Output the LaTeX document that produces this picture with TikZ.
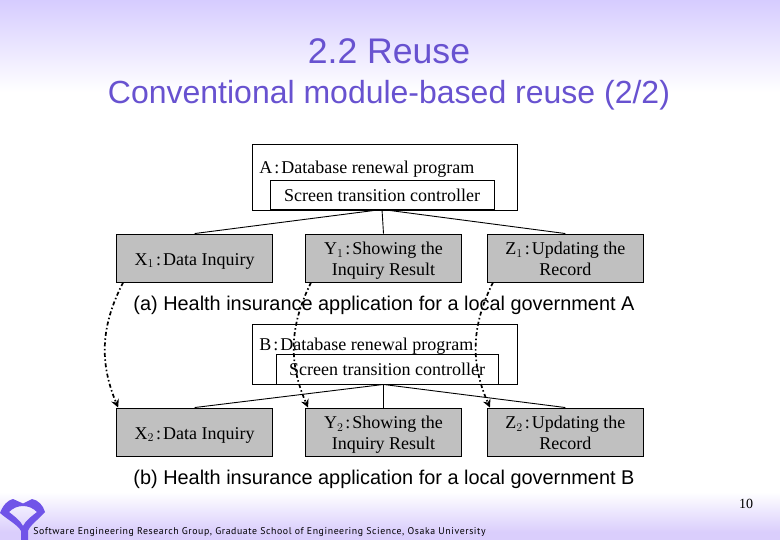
\documentclass[tikz,border=0pt]{standalone}
\usepackage{fontspec}
\setmainfont{Liberation Serif}
\newfontfamily\arial{Liberation Sans}
\newfontfamily\footfont[LetterSpace=6]{PT Sans}
\usetikzlibrary{positioning, arrows.meta}
\definecolor{slidepurple}{RGB}{104,82,208}
\definecolor{logopurple}{RGB}{112,84,232}
\definecolor{bgtop}{RGB}{214,204,255}
\definecolor{bgbottom}{RGB}{218,206,252}
\definecolor{modgray}{RGB}{192,192,192}
\newcommand{\modtext}[1]{\raisebox{-7.5pt}[0pt][0pt]{\begin{tabular}{@{}c@{}}#1\end{tabular}}}
\newcommand{\sep}{\kern2pt:\kern2pt}
\tikzset{
  titletext/.style={font=\arial\fontsize{32}{36}\selectfont, text=slidepurple},
  progbox/.style={draw, line width=0.9pt, inner sep=0pt, fill=white, font=\fontsize{18}{21}\selectfont},
  modbox/.style={draw, line width=0.9pt, fill=modgray, minimum width=156pt, minimum height=48pt, inner sep=0pt, font=\fontsize{18}{21}\selectfont},
  lbl/.style={inner sep=0pt, font=\fontsize{18}{21}\selectfont},
  caption/.style={inner sep=0pt, anchor=west, font=\arial\fontsize{19.9}{24}\selectfont},
  reuse/.style={-{Stealth[length=8pt,width=8pt]}, line width=1.7pt, dash pattern=on 4pt off 2.5pt on 1.5pt off 2.5pt}
}
\begin{document}
\begin{tikzpicture}[x=1pt,y=-1pt,node distance=32pt,line width=0.9pt]
      % background
      \path[top color=bgtop,bottom color=white] (0,0) rectangle (780,92);
      \path[top color=white,bottom color=bgbottom] (0,492) rectangle (780,532);
      \path[fill=bgbottom] (0,532) rectangle (780,540);
      \useasboundingbox (0,0) rectangle (780,540);
      % title
      \node[titletext,font=\arial\fontsize{35.6}{40}\selectfont] (title_1) at (389,51) {2.2 Reuse};
      \node[titletext] (title_2) at (389,95) {Conventional module-based reuse (2/2)};
      % program A
      \node[progbox,minimum width=264.5pt,minimum height=66pt] (prog_a) at (384.75,177) {};
      \node[lbl,anchor=west] (name_a) at (259,169) {A\sep Database renewal program};
      \node[progbox,minimum width=224pt,minimum height=29pt] (ctrl_a) at (382,194.5) {\raisebox{-7.5pt}[0pt][0pt]{Screen transition controller}};
      \node[modbox] (y_1) at (383.5,258) {\modtext{Y$_1$\sep Showing the\\Inquiry Result}};
      \node[modbox,left=of y_1] (x_1) {\modtext{X$_1$\sep Data Inquiry}};
      \node[modbox,right=25pt of y_1] (z_1) {\modtext{Z$_1$\sep Updating the\\Record}};
      \node[caption] (cap_a) at (133,305.5) {(a) Health insurance application for a local government A};
      % program B
      \node[progbox,minimum width=264.5pt,minimum height=60pt] (prog_b) at (384.75,354) {};
      \node[lbl,anchor=west] (name_b) at (259,346) {B\sep Database renewal program};
      \node[progbox,minimum width=222pt,minimum height=30pt] (ctrl_b) at (387,369) {Screen transition controller};
      \node[modbox] (y_2) at (383.5,432) {\modtext{Y$_2$\sep Showing the\\Inquiry Result}};
      \node[modbox,left=of y_2] (x_2) {\modtext{X$_2$\sep Data Inquiry}};
      \node[modbox,right=25pt of y_2] (z_2) {\modtext{Z$_2$\sep Updating the\\Record}};
      \node[caption] (cap_b) at (133,479.5) {(b) Health insurance application for a local government B};
      % tree lines
      \draw (ctrl_a.south) -- (x_1.north);
      \draw (ctrl_a.south) -- (y_1.north);
      \draw (ctrl_a.south) -- (z_1.north);
      \draw (prog_b.south -| y_2.north) -- (x_2.north);
      \draw (prog_b.south -| y_2.north) -- (y_2.north);
      \draw (prog_b.south -| y_2.north) -- (z_2.north);
      % reuse arrows
      \draw[reuse] ([xshift=7pt]x_1.south west) to[bend right=25] ([xshift=2pt]x_2.north west);
      \draw[reuse] ([xshift=6pt]y_1.south west) to[bend right=25] ([xshift=3pt]y_2.north west);
      \draw[reuse] ([xshift=6pt]z_1.south west) to[bend right=25] ([xshift=3pt]z_2.north west);
      % footer
      \node[inner sep=0pt,font=\fontsize{14}{16}\selectfont] (page_no) at (746,504) {10};
      \node[inner sep=0pt,anchor=west,font=\footfont\fontsize{9.8}{11}\selectfont] (footer) at (33,532.5) {Software Engineering Research Group, Graduate School of Engineering Science, Osaka University};
      % logo
      \fill[logopurple,even odd rule] (0,513) .. controls (3,505) and (8,500) .. (13,499) -- (23,503.5) -- (32,499)
        .. controls (38,500) and (43,505) .. (45,512) .. controls (38,520) and (30,525) .. (28,531) -- (28,540) -- (21,540) -- (21,531)
        .. controls (18,525) and (8,520) .. (0,513) -- cycle
        (9,512) .. controls (13,508) and (18,506) .. (23,506) .. controls (28,506) and (33,508) .. (37,512)
        .. controls (32,516) and (26,520) .. (23,526) .. controls (20,520) and (14,516) .. (9,512) -- cycle;
    \end{tikzpicture}
\end{document}
